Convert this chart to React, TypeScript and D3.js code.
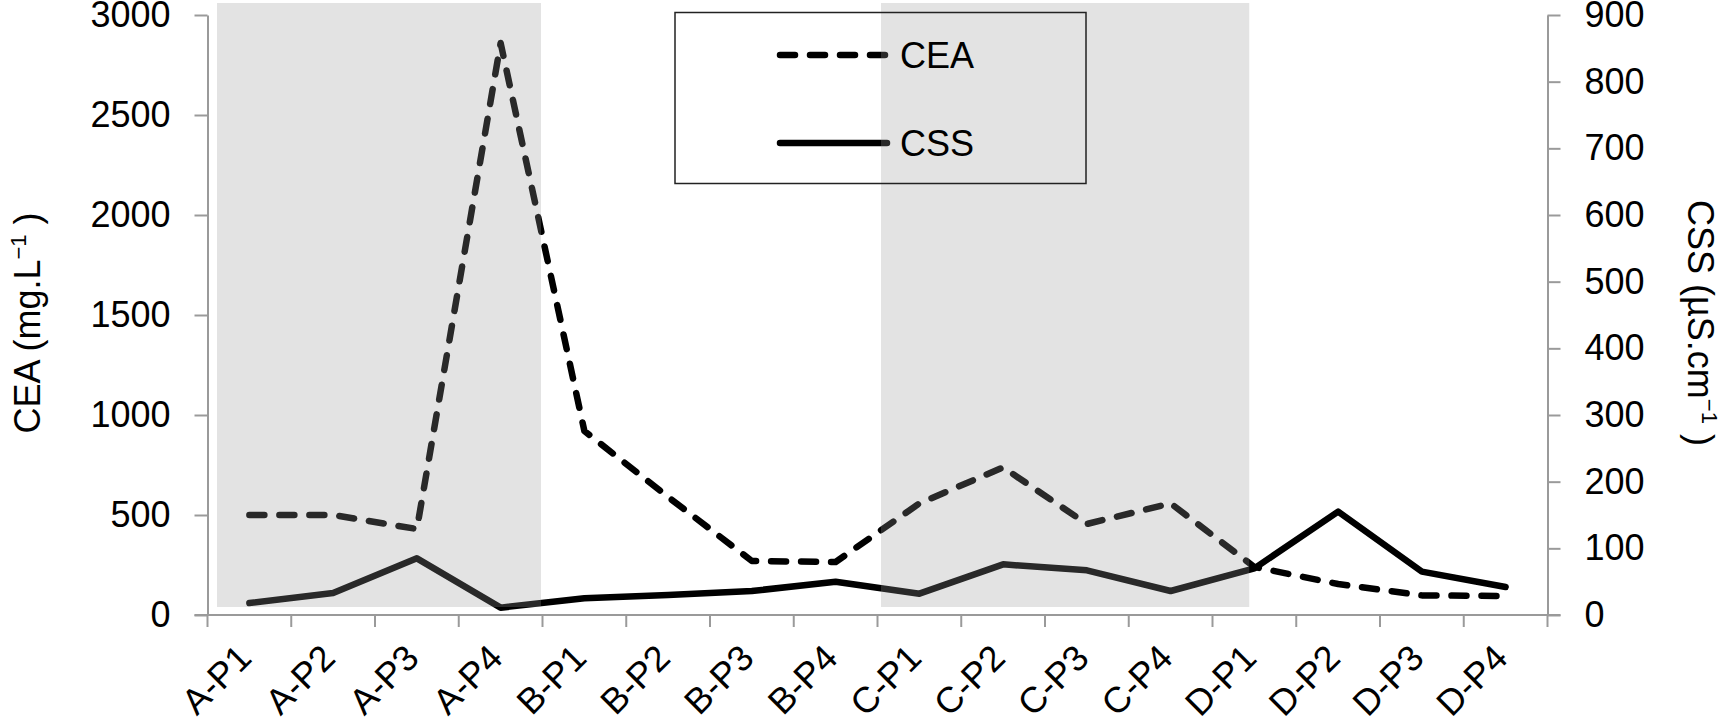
import * as d3 from "d3";
import React, { RefObject, useEffect, useRef } from "react";

const categories = [
  "A-P1", "A-P2", "A-P3", "A-P4",
  "B-P1", "B-P2", "B-P3", "B-P4",
  "C-P1", "C-P2", "C-P3", "C-P4",
  "D-P1", "D-P2", "D-P3", "D-P4",
];
// CEA (mg.L-1), left axis
const ceaValues = [500, 500, 430, 2860, 920, 590, 270, 265, 558, 738, 455, 558, 240, 155, 98, 95];
// CSS (uS.cm-1), right axis
const cssValues = [18, 33, 85, 11, 25, 30, 36, 50, 32, 76, 67, 36, 70, 155, 65, 42];
const leftTicks = [0, 500, 1000, 1500, 2000, 2500, 3000];
const rightTicks = [0, 100, 200, 300, 400, 500, 600, 700, 800, 900];
const shadedGroups = [
  { from: "A-P1", to: "A-P4" },
  { from: "C-P1", to: "D-P1" },
];
const seriesNames = ["CEA", "CSS"];

const W = 1729;
const H = 724;
const FONT = "'Liberation Sans', Arial, Helvetica, sans-serif";

const App = () => {
  const d3Ref: RefObject<HTMLDivElement> = useRef(null);

  useEffect(() => {
    const root = d3.select(d3Ref.current);
    root.selectAll("*").remove();
    const svg = root
      .append("svg")
      .attr("width", W)
      .attr("height", H)
      .style("position", "absolute")
      .style("left", 0)
      .style("top", 0)
      .style("font-family", FONT);

    svg.append("rect").attr("width", W).attr("height", H).attr("fill", "#fff");

    const left = 207.5;
    const right = 1547.5;
    const top = 15;
    const bottom = 615;

    const x = d3.scaleBand().domain(categories).range([left, right]);
    const bw = x.bandwidth();
    const cx = (c: string) => (x(c) as number) + bw / 2;
    const yL = d3.scaleLinear().domain([0, 3000]).range([bottom, top]);
    const yR = d3.scaleLinear().domain([0, 900]).range([bottom, top]);

    const axisColor = "#9a9a9a";
    const fmt = d3.format("d");

    // left axis
    const gl = svg
      .append("g")
      .attr("transform", `translate(${left},0)`)
      .call(
        d3.axisLeft(yL).tickValues(leftTicks).tickFormat((d) => fmt(d as number))
          .tickSize(13).tickSizeOuter(0).tickPadding(24)
      );
    // right axis
    const gr = svg
      .append("g")
      .attr("transform", `translate(${right},0)`)
      .call(
        d3.axisRight(yR).tickValues(rightTicks).tickFormat((d) => fmt(d as number))
          .tickSize(13).tickSizeOuter(0).tickPadding(24)
      );
    [gl, gr].forEach((g) => {
      g.select(".domain").attr("stroke", axisColor).attr("stroke-width", 2);
      g.selectAll(".tick line").attr("stroke", axisColor).attr("stroke-width", 2);
      g.selectAll(".tick text")
        .attr("fill", "#000")
        .style("font-size", "36px")
        .style("font-family", FONT);
      g.attr("font-family", null).attr("font-size", null);
    });

    // bottom axis (ticks on band boundaries)
    const gx = svg.append("g");
    gx.append("line")
      .attr("x1", left - 13)
      .attr("x2", right + 13)
      .attr("y1", bottom)
      .attr("y2", bottom)
      .attr("stroke", axisColor)
      .attr("stroke-width", 2);
    const bounds = categories.map((c) => x(c) as number).concat([right]);
    gx.selectAll("line.tk")
      .data(bounds)
      .enter()
      .append("line")
      .attr("class", "tk")
      .attr("x1", (d) => d)
      .attr("x2", (d) => d)
      .attr("y1", bottom)
      .attr("y2", bottom + 12)
      .attr("stroke", axisColor)
      .attr("stroke-width", 2);
    gx.selectAll("text.cat")
      .data(categories)
      .enter()
      .append("text")
      .attr("class", "cat")
      .attr("text-anchor", "end")
      .attr("font-size", 36)
      .attr("transform", (d) => `translate(${cx(d) + 4},${bottom + 45}) rotate(-45)`)
      .text((d) => d);

    // lines
    const lineL = d3
      .line<number>()
      .x((_, i) => cx(categories[i]))
      .y((d) => yL(d));
    const lineR = d3
      .line<number>()
      .x((_, i) => cx(categories[i]))
      .y((d) => yR(d));

    svg.append("path")
      .datum(cssValues)
      .attr("fill", "none")
      .attr("stroke", "#000")
      .attr("stroke-width", 6.5)
      .attr("stroke-linejoin", "round")
      .attr("stroke-linecap", "round")
      .attr("d", lineR);

    svg.append("path")
      .datum(ceaValues)
      .attr("fill", "none")
      .attr("stroke", "#000")
      .attr("stroke-width", 6.5)
      .attr("stroke-linejoin", "round")
      .attr("stroke-linecap", "round")
      .attr("stroke-dasharray", "15 15")
      .attr("d", lineL);

    // legend samples
    const lgX0 = 780;
    const lgX1 = 887;
    const lgY = [55, 143];
    seriesNames.forEach((name, i) => {
      svg.append("line")
        .attr("x1", lgX0)
        .attr("x2", lgX1)
        .attr("y1", lgY[i])
        .attr("y2", lgY[i])
        .attr("stroke", "#000")
        .attr("stroke-width", 6.5)
        .attr("stroke-linecap", "round")
        .attr("stroke-dasharray", i === 0 ? "15 15" : null);
    });

    // shaded groups drawn over the lines
    const insets = [
      [9.5, -1.5],
      [3.5, -47],
    ];
    svg.selectAll("rect.shade")
      .data(shadedGroups)
      .enter()
      .append("rect")
      .attr("class", "shade")
      .attr("x", (d, i) => (x(d.from) as number) + insets[i][0])
      .attr("width", (d, i) => (x(d.to) as number) + bw + insets[i][1] - ((x(d.from) as number) + insets[i][0]))
      .attr("y", 3)
      .attr("height", 604)
      .attr("fill", "rgb(150,150,150)")
      .attr("fill-opacity", 0.27);

    // legend box and text
    svg.append("rect")
      .attr("x", 675)
      .attr("y", 12.5)
      .attr("width", 411)
      .attr("height", 171)
      .attr("fill", "none")
      .attr("stroke", "#222")
      .attr("stroke-width", 1.5);
    seriesNames.forEach((name, i) => {
      svg.append("text")
        .attr("x", 900)
        .attr("y", lgY[i] + 13)
        .attr("font-size", 36)
        .text(name);
    });

    // axis titles
    const tl = svg.append("text")
      .attr("transform", `translate(40,${(top + bottom) / 2 + 8}) rotate(-90)`)
      .attr("text-anchor", "middle")
      .attr("font-size", 36);
    tl.append("tspan").text("CEA (mg.L");
    tl.append("tspan").attr("dy", -14).attr("font-size", 22).text("\u22121");
    tl.append("tspan").attr("dy", 14).text(" )");

    const tr = svg.append("text")
      .attr("transform", `translate(1688,${(top + bottom) / 2 + 8}) rotate(90)`)
      .attr("text-anchor", "middle")
      .attr("font-size", 36);
    tr.append("tspan").text("CSS (\u00b5S.cm");
    tr.append("tspan").attr("dy", -14).attr("font-size", 22).text("\u22121");
    tr.append("tspan").attr("dy", 14).text(" )");
  }, [d3Ref]);

  return <div ref={d3Ref} />;
};

export default App;
